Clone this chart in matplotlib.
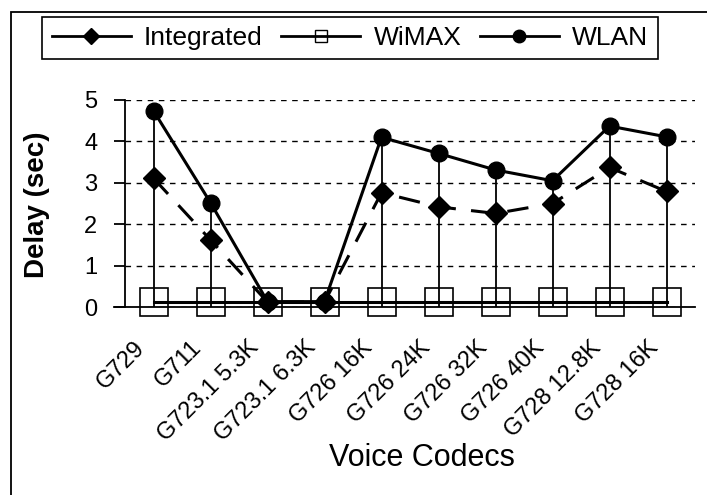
import matplotlib
matplotlib.use('Agg')
import matplotlib.pyplot as plt
from matplotlib.lines import Line2D
from matplotlib.patches import Rectangle
from matplotlib.transforms import ScaledTranslation

plt.rcParams['font.family'] = ['Liberation Sans', 'DejaVu Sans']

# delay per codec for each network setup (sec)
codecs = ['G729', 'G711', 'G723.1 5.3K', 'G723.1 6.3K', 'G726 16K',
          'G726 24K', 'G726 32K', 'G726 40K', 'G728 12.8K', 'G728 16K']
integrated = [3.11, 1.62, 0.12, 0.12, 2.76, 2.42, 2.26, 2.50, 3.37, 2.79]
wimax = [0.11, 0.11, 0.11, 0.11, 0.11, 0.11, 0.11, 0.11, 0.11, 0.11]
wlan = [4.74, 2.52, 0.13, 0.13, 4.10, 3.71, 3.31, 3.05, 4.37, 4.11]

fig = plt.figure(figsize=(7.07, 4.95), dpi=100)
ax = fig.add_axes([125/707, 1 - 307/495, 570/707, 207/495])

x = list(range(len(codecs)))

# drop lines from the highest point of each codec down to the axis
tops = [max(a, b, c) for a, b, c in zip(integrated, wimax, wlan)]
ax.vlines(x, 0, tops, color='black', lw=1.3, zorder=2)

ax.plot(x, wimax, color='black', lw=2.2, marker='s', ms=20,
        mfc='none', mec='black', mew=1.2, zorder=3, clip_on=False)
ax.plot(x, integrated, color='black', lw=2.2, dashes=(7, 5), marker='D',
        ms=11, mfc='black', mec='black', zorder=4, clip_on=False)
ax.plot(x, wlan, color='black', lw=2.2, marker='o', ms=12,
        mfc='black', mec='black', zorder=5, clip_on=False)

ax.set_xlim(-0.5, len(codecs) - 0.5)
ax.set_ylim(0, 5)
ax.set_yticks([0, 1, 2, 3, 4, 5])
ax.yaxis.grid(True, color='black', lw=1, linestyle=(0, (4, 4)))
ax.set_axisbelow(True)

for s in ['top', 'right']:
    ax.spines[s].set_visible(False)
ax.spines['left'].set_linewidth(1.3)
ax.spines['bottom'].set_linewidth(1.3)
ax.spines['bottom'].set_bounds(-0.7, 9.5)

ax.tick_params(axis='y', direction='out', length=8, width=1.3, labelsize=17, pad=12)
ax.tick_params(axis='x', length=0, labelsize=17, pad=27)
ax.set_xticks(x)
ax.set_xticklabels(codecs, rotation=45, ha='right', va='center', rotation_mode='anchor')
shift = ScaledTranslation(-12/100, 0, fig.dpi_scale_trans)
for lab in ax.get_xticklabels():
    lab.set_transform(lab.get_transform() + shift)

fig.text(37/707, 1 - 205/495, 'Delay (sec)', rotation=90, ha='center', va='center',
         fontsize=20, fontweight='bold')
fig.text(422/707, 1 - 458/495, 'Voice Codecs', ha='center', va='center', fontsize=22)

# legend with its own small markers
handles = [
    Line2D([], [], color='black', lw=2, marker='D', ms=8, mfc='black'),
    Line2D([], [], color='black', lw=2, marker='s', ms=9, mfc='none', mew=1),
    Line2D([], [], color='black', lw=2, marker='o', ms=9, mfc='black'),
]
leg = fig.legend(handles, ['Integrated', 'WiMAX', 'WLAN'], loc='center',
                 bbox_to_anchor=(350/707, 1 - 38/495), ncol=3, fontsize=19,
                 frameon=True, fancybox=False, edgecolor='black', framealpha=1,
                 handlelength=3.0, handletextpad=0.5, columnspacing=0.7,
                 borderpad=0.35, borderaxespad=0)
leg.get_frame().set_linewidth(1.2)

# outer frame around the whole chart
fig.patches.append(Rectangle((11/707, -0.1), 1.2, 1 - 12/495 + 0.1,
                             transform=fig.transFigure, fill=False,
                             edgecolor='black', lw=1.3))

fig.savefig('out.png', dpi=100)
